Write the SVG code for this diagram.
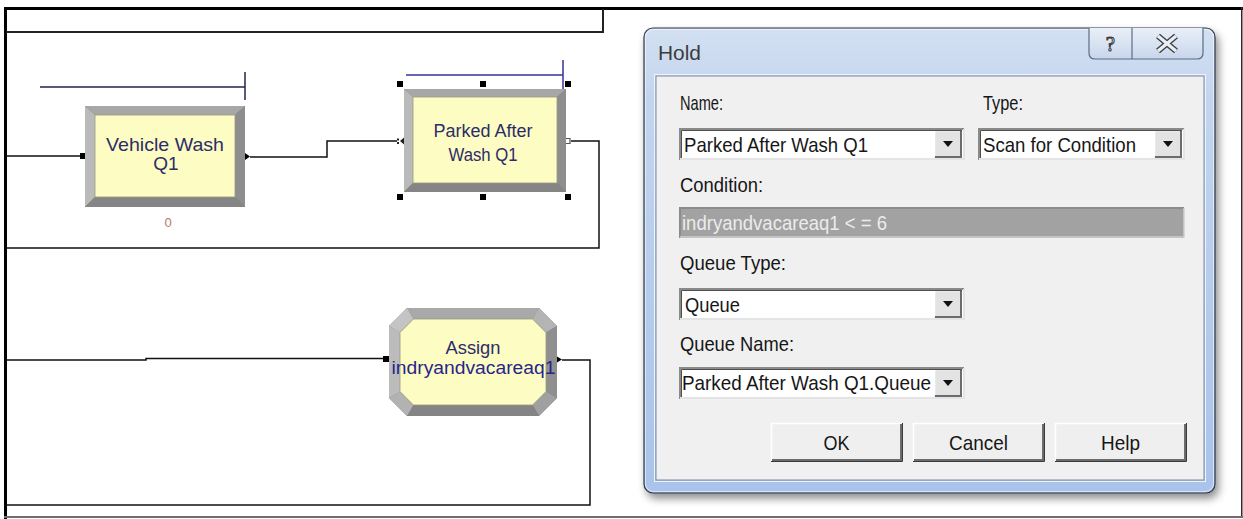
<svg xmlns="http://www.w3.org/2000/svg" width="1243" height="519" viewBox="0 0 1243 519">
  <defs>
    <style>
      .wire { fill: none; stroke: #111; stroke-width: 1.5; }
      .frame { fill: #000; }
      .lbl { font-family: "Liberation Sans", Arial, sans-serif; fill: #2c2c6a; }
      .dlg { font-family: "Liberation Sans Narrow", "Liberation Sans", Arial, sans-serif; font-size: 21px; fill: #161616; }
      .yellow { fill: #fdfcc2; stroke: #9a9a86; stroke-width: 0.8; }
      .bt { fill: #a7a7a7; }
      .bl { fill: #bababa; }
      .br { fill: #8e8e8e; }
      .bb { fill: #858585; }
      .handle { fill: #000; }
      .sunk-dark { fill: none; stroke: #8a8a8a; stroke-width: 2; }
      .sunk-inner { fill: none; stroke: #4e4e4e; stroke-width: 1; }
      .sunk-light { fill: none; stroke: #e4e4e4; stroke-width: 2; }
      .ddbtn { fill: #e3e3e3; }
      .hi { fill: none; stroke: #ffffff; stroke-width: 1.5; }
      .lo { fill: none; stroke: #6c6c6c; stroke-width: 2; }
      .lo2 { fill: none; stroke: #3a3a3a; stroke-width: 1; }
      .arrow { fill: #111; }
    </style>
    <linearGradient id="winFrame" x1="0" y1="0" x2="0" y2="1">
      <stop offset="0" stop-color="#d3e0f2"/>
      <stop offset="0.15" stop-color="#c3d5ee"/>
      <stop offset="1" stop-color="#a9c3ea"/>
    </linearGradient>
    <linearGradient id="capBtn" x1="0" y1="0" x2="0" y2="1">
      <stop offset="0" stop-color="#e9eff8"/>
      <stop offset="1" stop-color="#c8d6ec"/>
    </linearGradient>
    <filter id="winShadow" x="-5%" y="-5%" width="112%" height="115%">
      <feDropShadow dx="3" dy="5" stdDeviation="4" flood-color="#000" flood-opacity="0.45"/>
    </filter>
  </defs>

  <rect x="0" y="0" width="1243" height="519" fill="#ffffff"/>

  <!-- canvas border -->
  <g id="canvas-frame">
    <rect class="frame" x="4" y="7" width="1239" height="3"/>
    <rect class="frame" x="4" y="7" width="3" height="512"/>
    <rect x="1241" y="7" width="1.5" height="510" fill="#2a2a2a"/>
    <rect x="4" y="516" width="1239" height="2" fill="#6e6e6e"/>
    <path d="M6,32 H603 V9" fill="none" stroke="#222" stroke-width="2"/>
  </g>

  <!-- connectors -->
  <g id="connectors">
    <path class="wire" d="M6,156 H81"/>
    <path class="wire" d="M250,157 H327 V141 H397"/>
    <path class="wire" d="M571,141 H599 V248 H6"/>
    <path class="wire" d="M6,360 H146 V358.5 H384"/>
    <path class="wire" d="M562,360 H590 V505 H6"/>
  </g>

  <!-- Vehicle Wash Q1 (process) -->
  <g id="node-vehicle-wash">
    <path d="M40,87 H245 M245,72 V100" fill="none" stroke="#24244e" stroke-width="1.5"/>
    <rect x="85" y="106" width="160" height="101" fill="#7a7a7a"/>
    <polygon class="bt" points="85,106 245,106 235,115 95,115"/>
    <polygon class="bl" points="85,106 95,115 95,197 85,207"/>
    <polygon class="br" points="245,106 245,207 235,197 235,115"/>
    <polygon class="bb" points="85,207 245,207 235,197 95,197"/>
    <rect class="yellow" x="95" y="115" width="140" height="82"/>
    <rect class="handle" x="80" y="153" width="5" height="6"/>
    <polygon class="handle" points="245,153 250,156.5 245,160"/>
    <text class="lbl" x="165" y="151" font-size="19" text-anchor="middle" textLength="118" lengthAdjust="spacingAndGlyphs">Vehicle Wash</text>
    <text class="lbl" x="166" y="170" font-size="19" text-anchor="middle">Q1</text>
    <text x="168" y="227" font-family="Liberation Sans, Arial, sans-serif" font-size="13" fill="#b07a6a" text-anchor="middle">0</text>
  </g>

  <!-- Parked After Wash Q1 (hold, selected) -->
  <g id="node-parked-after-wash">
    <path d="M406,75 H563 M563,60 V90" fill="none" stroke="#35359a" stroke-width="1.5"/>
    <rect x="404" y="89" width="162" height="103" fill="#7a7a7a"/>
    <polygon class="bt" points="404,89 566,89 557,97 413,97"/>
    <polygon class="bl" points="404,89 413,97 413,183 404,192"/>
    <polygon class="br" points="566,89 566,192 557,183 557,97"/>
    <polygon class="bb" points="404,192 566,192 557,183 413,183"/>
    <rect class="yellow" x="413" y="97" width="144" height="86"/>
    <rect class="handle" x="397" y="81" width="6" height="6"/>
    <rect class="handle" x="480" y="81" width="6" height="6"/>
    <rect class="handle" x="565" y="81" width="6" height="6"/>
    <rect class="handle" x="397" y="194" width="6" height="6"/>
    <rect class="handle" x="480" y="194" width="6" height="6"/>
    <rect class="handle" x="565" y="194" width="6" height="6"/>
    <rect x="397" y="138.5" width="2" height="2" fill="#222"/>
    <rect x="397" y="142" width="2" height="2" fill="#222"/>
    <polygon points="404,137.5 400,141 404,144.5" fill="#222"/>
    <path d="M566,138.5 H570 V143.5 H566" fill="none" stroke="#555" stroke-width="1.2"/>
    <text class="lbl" x="483" y="137" font-size="17.5" text-anchor="middle" textLength="99" lengthAdjust="spacingAndGlyphs">Parked After</text>
    <text class="lbl" x="483" y="161" font-size="17.5" text-anchor="middle" textLength="69" lengthAdjust="spacingAndGlyphs">Wash Q1</text>
  </g>

  <!-- Assign indryandvacareaq1 (assign) -->
  <g id="node-assign">
    <polygon points="407,308 539,308 557,326 557,398 539,416 407,416 389,398 389,326" fill="#7a7a7a"/>
    <polygon fill="#a9a9a9" points="407,308 539,308 532.6,319 413.4,319"/>
    <polygon fill="#b4b4b4" points="539,308 557,326 546,332.4 532.6,319"/>
    <polygon fill="#8f8f8f" points="557,326 557,398 546,391.6 546,332.4"/>
    <polygon fill="#a0a0a0" points="557,398 539,416 532.6,405 546,391.6"/>
    <polygon fill="#848484" points="539,416 407,416 413.4,405 532.6,405"/>
    <polygon fill="#b2b2b2" points="407,416 389,398 400,391.6 413.4,405"/>
    <polygon fill="#bcbcbc" points="389,398 389,326 400,332.4 400,391.6"/>
    <polygon fill="#c4c4c4" points="389,326 407,308 413.4,319 400,332.4"/>
    <polygon class="yellow" points="413.4,319 532.6,319 546,332.4 546,391.6 532.6,405 413.4,405 400,391.6 400,332.4"/>
    <rect class="handle" x="383" y="356" width="6" height="6"/>
    <polygon class="handle" points="557,356.5 562,359.5 557,362.5"/>
    <text class="lbl" x="473" y="354" font-size="17.5" text-anchor="middle" textLength="55" lengthAdjust="spacingAndGlyphs">Assign</text>
    <text class="lbl" x="473.5" y="374" font-size="17.5" text-anchor="middle" textLength="164" lengthAdjust="spacingAndGlyphs" style="fill:#26268a">indryandvacareaq1</text>
  </g>

  <!-- Hold dialog window -->
  <g id="dialog-hold">
    <rect x="644" y="28" width="571" height="465" rx="9" fill="url(#winFrame)" stroke="#2f3947" stroke-width="1.2" filter="url(#winShadow)"/>
    <rect x="645.5" y="29.5" width="568" height="462" rx="8" fill="none" stroke="#ffffff" stroke-opacity="0.55" stroke-width="1"/>
    <text class="dlg" x="658" y="60" style="fill:#3c3c3c;font-size:20px" textLength="43" lengthAdjust="spacingAndGlyphs">Hold</text>

    <!-- caption buttons -->
    <path d="M1089,28 V53 Q1089,59 1095,59 H1197 Q1203,59 1203,53 V28" fill="url(#capBtn)" stroke="#5c6d85" stroke-width="1.2"/>
    <path d="M1132,28 V59" stroke="#5c6d85" stroke-width="1.2"/>
    <text x="1110.5" y="51" font-family="Liberation Serif, serif" font-size="21" text-anchor="middle" fill="#e6ecf5" stroke="#3c3c3c" stroke-width="1">?</text>
    <path d="M1158,36 L1176,51 M1176,36 L1158,51" stroke="#3c3c3c" stroke-width="6" fill="none"/>
    <path d="M1158,36 L1176,51 M1176,36 L1158,51" stroke="#e8eef7" stroke-width="3.4" fill="none"/>

    <!-- client area -->
    <rect x="654.5" y="74.5" width="551" height="407" fill="none" stroke="#eef4fc" stroke-width="1"/>
    <rect x="656" y="76" width="548" height="404" fill="#f0f0f0" stroke="#7a8ba3" stroke-width="1"/>

    <!-- labels -->
    <text class="dlg" x="680" y="110" textLength="43" lengthAdjust="spacingAndGlyphs">Name:</text>
    <text class="dlg" x="983" y="110" textLength="40" lengthAdjust="spacingAndGlyphs">Type:</text>
    <text class="dlg" x="680" y="192" textLength="83" lengthAdjust="spacingAndGlyphs">Condition:</text>
    <text class="dlg" x="680" y="270" textLength="106" lengthAdjust="spacingAndGlyphs">Queue Type:</text>
    <text class="dlg" x="680" y="351" textLength="114" lengthAdjust="spacingAndGlyphs">Queue Name:</text>

    <!-- Name combo -->
    <rect x="679" y="128" width="285" height="32" fill="#ffffff"/>
    <text class="dlg" x="684" y="152" textLength="184" lengthAdjust="spacingAndGlyphs">Parked After Wash Q1</text>
    <rect class="ddbtn" x="934" y="130" width="28" height="28"/>
    <path class="hi" d="M934.5,157 V130.5 H961"/>
    <path class="lo" d="M935,157 H961 V131"/>
    <polygon class="arrow" points="943,141 953,141 948,147"/>
    <path class="sunk-dark" d="M680,160 V129 H964"/>
    <path class="sunk-inner" d="M681.5,158.5 V130.5 H962"/>
    <path class="sunk-light" d="M964,129 V159 H680"/>

    <!-- Type combo -->
    <rect x="978" y="128" width="206" height="32" fill="#ffffff"/>
    <text class="dlg" x="983" y="152" textLength="153" lengthAdjust="spacingAndGlyphs">Scan for Condition</text>
    <rect class="ddbtn" x="1154" y="130" width="28" height="28"/>
    <path class="hi" d="M1154.5,157 V130.5 H1181"/>
    <path class="lo" d="M1155,157 H1181 V131"/>
    <polygon class="arrow" points="1163,141 1173,141 1168,147"/>
    <path class="sunk-dark" d="M979,160 V129 H1184"/>
    <path class="sunk-inner" d="M980.5,158.5 V130.5 H1182"/>
    <path class="sunk-light" d="M1184,129 V159 H979"/>

    <!-- Condition field (disabled) -->
    <rect x="679" y="207" width="505" height="31" fill="#a2a2a2"/>
    <path d="M680,238 V208 H1184" fill="none" stroke="#8c8c8c" stroke-width="2"/>
    <path d="M1184,208 V237 H680" fill="none" stroke="#cfcfcf" stroke-width="1.5"/>
    <text class="dlg" x="682" y="230" style="fill:#ececec" textLength="205" lengthAdjust="spacingAndGlyphs">indryandvacareaq1 &lt; = 6</text>

    <!-- Queue Type combo -->
    <rect x="679" y="288" width="285" height="32" fill="#ffffff"/>
    <text class="dlg" x="685" y="312" textLength="55" lengthAdjust="spacingAndGlyphs">Queue</text>
    <rect class="ddbtn" x="934" y="290" width="28" height="28"/>
    <path class="hi" d="M934.5,317 V290.5 H961"/>
    <path class="lo" d="M935,317 H961 V291"/>
    <polygon class="arrow" points="943,301 953,301 948,307"/>
    <path class="sunk-dark" d="M680,320 V289 H964"/>
    <path class="sunk-inner" d="M681.5,318.5 V290.5 H962"/>
    <path class="sunk-light" d="M964,289 V319 H680"/>

    <!-- Queue Name combo -->
    <rect x="679" y="367" width="285" height="32" fill="#ffffff"/>
    <text class="dlg" x="682" y="390" textLength="249" lengthAdjust="spacingAndGlyphs">Parked After Wash Q1.Queue</text>
    <rect class="ddbtn" x="934" y="369" width="28" height="28"/>
    <path class="hi" d="M934.5,396 V369.5 H961"/>
    <path class="lo" d="M935,396 H961 V370"/>
    <polygon class="arrow" points="943,380 953,380 948,386"/>
    <path class="sunk-dark" d="M680,399 V368 H964"/>
    <path class="sunk-inner" d="M681.5,397.5 V369.5 H962"/>
    <path class="sunk-light" d="M964,368 V398 H680"/>

    <!-- push buttons -->
    <rect x="771" y="423" width="131" height="38" fill="#efefef"/>
    <path class="hi" d="M771.5,460 V423.5 H901"/>
    <path class="lo" d="M772,460 H901 V424"/>
    <path class="lo2" d="M771,461.5 H902.5 V423"/>
    <text class="dlg" x="836.5" y="450" text-anchor="middle" textLength="26" lengthAdjust="spacingAndGlyphs">OK</text>

    <rect x="913" y="423" width="131" height="38" fill="#efefef"/>
    <path class="hi" d="M913.5,460 V423.5 H1043"/>
    <path class="lo" d="M914,460 H1043 V424"/>
    <path class="lo2" d="M913,461.5 H1044.5 V423"/>
    <text class="dlg" x="978.5" y="450" text-anchor="middle" textLength="59" lengthAdjust="spacingAndGlyphs">Cancel</text>

    <rect x="1055" y="423" width="131" height="38" fill="#efefef"/>
    <path class="hi" d="M1055.5,460 V423.5 H1185"/>
    <path class="lo" d="M1056,460 H1185 V424"/>
    <path class="lo2" d="M1055,461.5 H1186.5 V423"/>
    <text class="dlg" x="1120.5" y="450" text-anchor="middle" textLength="39" lengthAdjust="spacingAndGlyphs">Help</text>
  </g>
</svg>
